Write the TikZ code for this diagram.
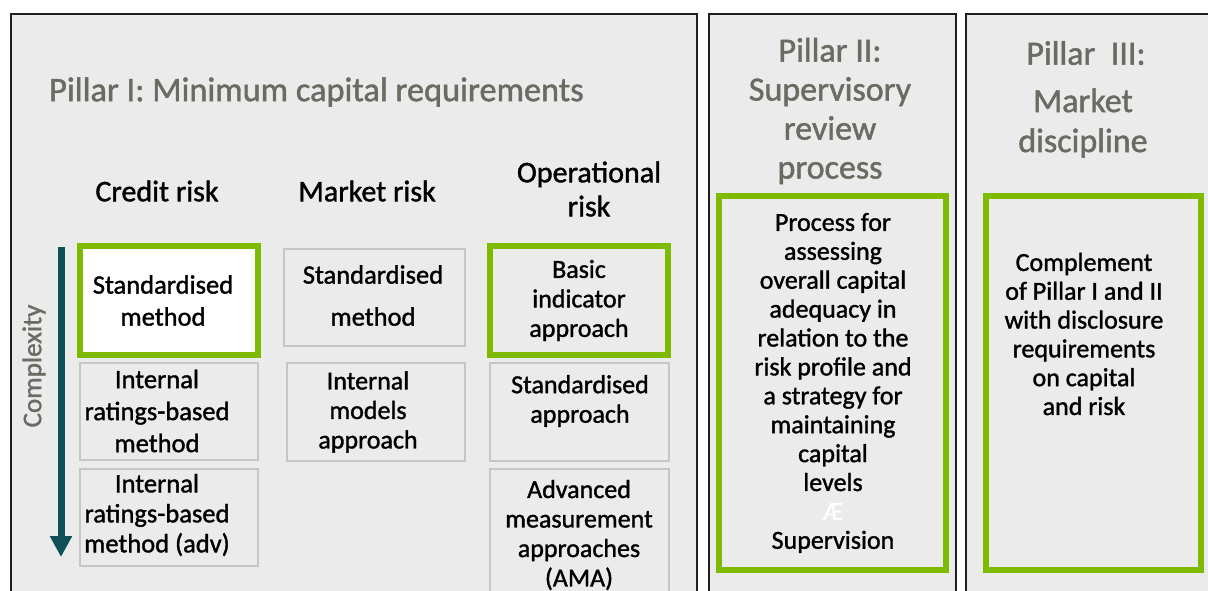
\documentclass[tikz,border=0pt]{standalone}
\usepackage{fontspec}
\setmainfont{Carlito}[RawFeature={embolden=1.3}]
\usetikzlibrary{arrows.meta}
\definecolor{panelgray}{HTML}{EBEBEB}
\definecolor{pgreen}{HTML}{7DBA00}
\definecolor{titlegray}{HTML}{6B6B63}
\definecolor{boxgray}{HTML}{C6C6C6}
\definecolor{arrowteal}{HTML}{0F4F58}
\begin{document}
\begin{tikzpicture}[x=1pt,y=-1pt,
  pillar/.style={draw=black!88, line width=2pt, fill=panelgray},
  greenbox/.style={draw=pgreen, line width=6pt},
  graybox/.style={draw=boxgray, line width=2pt, fill=panelgray},
  boxtext/.style={font=\fontsize{26}{29.5}\selectfont, align=center, inner sep=0pt, text=black},
  ttl/.style={font=\fontsize{34}{39}\selectfont, text=titlegray, align=center, inner sep=0pt},
  hdr/.style={font=\fontsize{30}{34}\selectfont, align=center, inner sep=0pt, text=black},
  cplx/.style={font=\fontsize{27}{30}\selectfont, text=titlegray, inner sep=0pt}]
\useasboundingbox (0,0) rectangle (1208,590);
\clip (0,0) rectangle (1208,590);
\fill[white] (0,0) rectangle (1208,590);

% pillars
\draw[pillar] (11,14) rectangle (697,630);
\draw[pillar] (709,14) rectangle (956,630);
\draw[pillar] (966,14) rectangle (1230,630);

% Pillar I title and headers
\node[ttl, anchor=west, font=\fontsize{34.3}{39}\selectfont] (p1title) at (49,92) {Pillar I: Minimum capital requirements};
\node[hdr] (hcredit) at (157,191) {Credit risk};
\node[hdr] (hmarket) at (367,191) {Market risk};
\node[hdr] (hoper) at (589,189) {Operational\\[0pt]risk};

% Credit risk boxes
\draw[greenbox, fill=white] (80,246) rectangle (258,355);
\node[boxtext, font=\fontsize{26.5}{32}\selectfont] (cstd) at (163,300.5) {Standardised\\method};
\draw[graybox] (80,363) rectangle (258,460);
\node[boxtext, font=\fontsize{26.5}{32}\selectfont] (cirb) at (157,411) {Internal\\ratings-based\\method};
\draw[graybox] (80,469) rectangle (258,566);
\node[boxtext, font=\fontsize{26.5}{30}\selectfont] (cirba) at (157,515) {Internal\\ratings-based\\method (adv)};

% Market risk boxes
\draw[graybox] (284,249) rectangle (465,346);
\node[boxtext, font=\fontsize{26.5}{42}\selectfont] (mstd) at (373,295.5) {Standardised\\method};
\draw[graybox] (287,363) rectangle (465,461);
\node[boxtext] (mima) at (368,412) {Internal\\models\\approach};

% Operational risk boxes
\draw[greenbox, fill=panelgray] (490,246) rectangle (668,355);
\node[boxtext] (obia) at (579,300.5) {Basic\\indicator\\approach};
\draw[graybox] (490,363) rectangle (669,461);
\node[boxtext] (osa) at (580,401) {Standardised\\approach};
\draw[graybox] (490,469) rectangle (669,620);
\node[boxtext] (oama) at (579,535) {Advanced\\measurement\\approaches\\(AMA)};

% complexity arrow
\coordinate (atop) at (61,247);
\coordinate (abot) at (61,557);
\draw[arrowteal, line width=7pt, -{Triangle[width=21pt,length=21pt]}] (atop) -- (abot);
\node[cplx, rotate=90] (cplxlbl) at (34,366) {Complexity};

% Pillar II
\node[ttl] (p2title) at (830,111) {Pillar II:\\Supervisory\\review\\process};
\draw[greenbox] (719,196) rectangle (946,570);
\node[boxtext, font=\fontsize{26}{28.9}\selectfont] (p2text) at (833,383) {Process for\\assessing\\overall capital\\adequacy in\\relation to the\\risk profile and\\a strategy for\\maintaining\\capital\\levels\\\textcolor{white}{Æ}\\Supervision};

% Pillar III
\node[ttl] (p3title) at (1086,53) {Pillar\ \ III:};
\node[ttl, font=\fontsize{34}{40}\selectfont] (p3title2) at (1083,123) {Market\\discipline};
\draw[greenbox] (986,196) rectangle (1201,570);
\node[boxtext, font=\fontsize{26}{28.8}\selectfont] (p3text) at (1084,334) {Complement\\of Pillar I and II\\with disclosure\\requirements\\on capital\\and risk};
\end{tikzpicture}
\end{document}
